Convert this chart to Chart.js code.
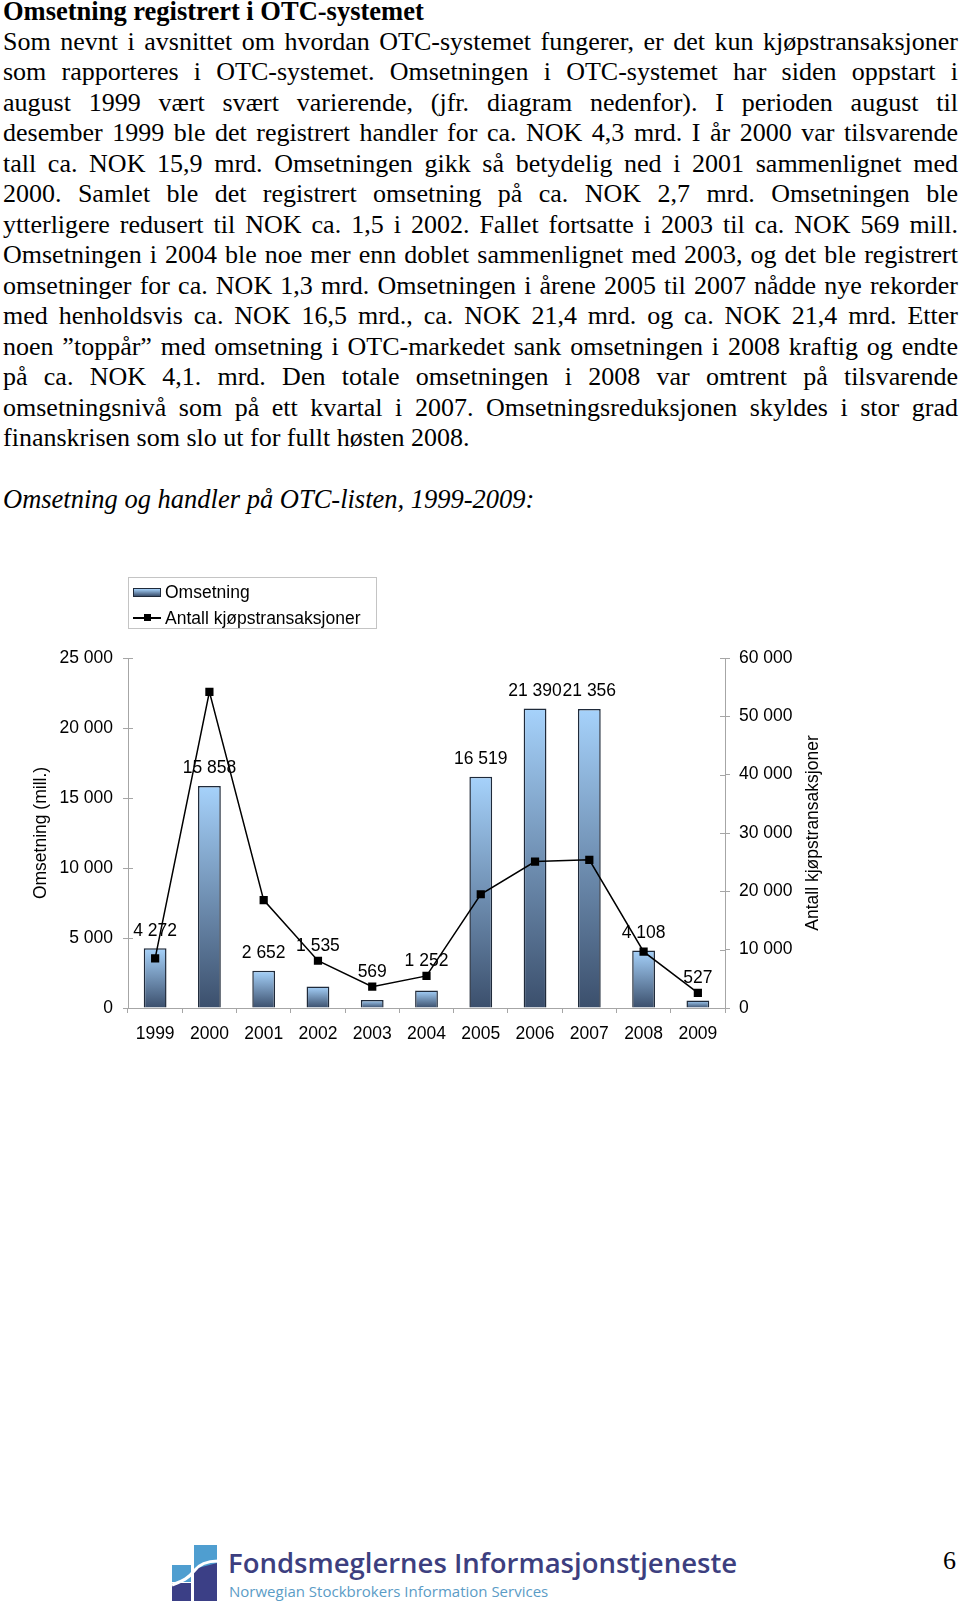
<!DOCTYPE html>
<html>
<head>
<meta charset="utf-8">
<script src="https://cdn.jsdelivr.net/npm/chart.js@4.4.0/dist/chart.umd.min.js"></script>
<style>
  html, body { margin: 0; padding: 0; background: #fff; }
  body { width: 960px; height: 1606px; position: relative; overflow: hidden; }
  #text { position: absolute; left: 3px; top: -4px; width: 955px;
    font-family: "Liberation Serif", "Times New Roman", serif; font-size: 26px; line-height: 30.5px; color: #000; }
  #text div { height: 30.5px; white-space: nowrap; }
  #text .j { text-align: justify; text-align-last: justify; }
  #text h1 { margin: 0; font-size: 26.5px; font-weight: bold; height: 30.5px; line-height: 30.5px; }
  #text .cap { font-style: italic; font-size: 26.5px; }
  #chart { position: absolute; left: 0; top: 540px; }
  #legend { position: absolute; left: 128px; top: 577px; width: 247px; height: 50px;
    border: 1px solid #c4c4c4; font-family: "Liberation Sans", Arial, sans-serif; font-size: 17.5px; color: #000; }
  #legend .item { position: absolute; left: 4px; height: 20px; line-height: 20px; white-space: nowrap; }
  #legend .sw { position: absolute; left: 0; width: 28px; }
  #legend .lbl { position: absolute; left: 32px; top: 0; }
  #logo { position: absolute; left: 172px; top: 1545px; }
  #brand1 { position: absolute; left: 228px; top: 1546px; font-family: "Open Sans", sans-serif;
    font-size: 27.5px; font-weight: 600; color: #3d3f7f; line-height: 34px; white-space: nowrap; }
  #brand2 { position: absolute; left: 229px; top: 1582px; font-family: "Open Sans", sans-serif;
    font-size: 15px; color: #5b9cc6; line-height: 18px; white-space: nowrap; }
  #page { position: absolute; left: 943px; top: 1546px; font-family: "Liberation Serif", serif; font-size: 26px; }
</style>
</head>
<body>
<div id="text">
  <h1>Omsetning registrert i OTC-systemet</h1>
  <div class="j">Som nevnt i avsnittet om hvordan OTC-systemet fungerer, er det kun kjøpstransaksjoner</div>
  <div class="j">som rapporteres i OTC-systemet. Omsetningen i OTC-systemet har siden oppstart i</div>
  <div class="j">august 1999 vært svært varierende, (jfr. diagram nedenfor). I perioden august til</div>
  <div class="j">desember 1999 ble det registrert handler for ca. NOK 4,3 mrd. I år 2000 var tilsvarende</div>
  <div class="j">tall ca. NOK 15,9 mrd. Omsetningen gikk så betydelig ned i 2001 sammenlignet med</div>
  <div class="j">2000. Samlet ble det registrert omsetning på ca. NOK 2,7 mrd. Omsetningen ble</div>
  <div class="j">ytterligere redusert til NOK ca. 1,5 i 2002. Fallet fortsatte i 2003 til ca. NOK 569 mill.</div>
  <div class="j">Omsetningen i 2004 ble noe mer enn doblet sammenlignet med 2003, og det ble registrert</div>
  <div class="j">omsetninger for ca. NOK 1,3 mrd. Omsetningen i årene 2005 til 2007 nådde nye rekorder</div>
  <div class="j">med henholdsvis ca. NOK 16,5 mrd., ca. NOK 21,4 mrd. og ca. NOK 21,4 mrd. Etter</div>
  <div class="j">noen ”toppår” med omsetning i OTC-markedet sank omsetningen i 2008 kraftig og endte</div>
  <div class="j">på ca. NOK 4,1. mrd. Den totale omsetningen i 2008 var omtrent på tilsvarende</div>
  <div class="j">omsetningsnivå som på ett kvartal i 2007. Omsetningsreduksjonen skyldes i stor grad</div>
  <div>finanskrisen som slo ut for fullt høsten 2008.</div>
  <div></div>
  <div class="cap">Omsetning og handler på OTC-listen, 1999-2009:</div>
</div>

<canvas id="chart" width="960" height="520"></canvas>
<div id="legend"></div>

<svg id="logo" width="46" height="56" viewBox="0 0 46 56">
  <rect x="0" y="20" width="19" height="17" fill="#4f9ed0"/>
  <rect x="0" y="38" width="19" height="18" fill="#3b3f86"/>
  <rect x="22" y="0" width="23" height="24" fill="#4f9ed0"/>
  <polygon points="22,24 45,18 45,56 22,56" fill="#3b3f86"/>
  <path d="M0,40 C10,36 16,34 22,26 C28,18 36,16 46,16" stroke="#fff" stroke-width="3" fill="none"/>
</svg>
<div id="brand1">Fondsmeglernes Informasjonstjeneste</div>
<div id="brand2">Norwegian Stockbrokers Information Services</div>
<div id="page">6</div>

<script>
var years = ['1999', '2000', '2001', '2002', '2003', '2004', '2005', '2006', '2007', '2008', '2009'];
var omsetning = [4272, 15858, 2652, 1535, 569, 1252, 16519, 21390, 21356, 4108, 527];
var kjopstransaksjoner = [8500, 54200, 18500, 8100, 3650, 5500, 19500, 25100, 25400, 9650, 2600];
var barLabel = 'Omsetning';
var lineLabel = 'Antall kjøpstransaksjoner';
var leftTitle = 'Omsetning (mill.)';
var rightTitle = 'Antall kjøpstransaksjoner';
var leftMax = 25000, leftStep = 5000;
var rightMax = 60000, rightStep = 10000;

var axisGray = '#a6a6a6';
var barTop = '#a6d2fb', barBottom = '#3b4f6c';
var fontSize = 17.5;
var fontCss = fontSize + 'px "Liberation Sans", Arial, sans-serif';

Chart.defaults.font.family = '"Liberation Sans", Arial, sans-serif';
Chart.defaults.font.size = fontSize;
Chart.defaults.color = '#000';

function fmt(v) {
  return String(v).replace(/\B(?=(\d{3})+(?!\d))/g, ' ');
}

// legend drawn as html, from the series names
var legend = document.getElementById('legend');
legend.innerHTML =
  '<div class="item" style="top:4px"><div class="sw" style="top:6px;height:7px;border:1px solid #1f2a3a;width:26px;' +
  'background:linear-gradient(' + barTop + ',' + barBottom + ')"></div><span class="lbl">' + barLabel + '</span></div>' +
  '<div class="item" style="top:30px"><div class="sw" style="top:9px;height:2px;background:#000"></div>' +
  '<div class="sw" style="top:6px;left:11px;width:7px;height:7px;background:#000"></div>' +
  '<span class="lbl">' + lineLabel + '</span></div>';

// value labels above bars, pushed up when the line marker sits on them
var valueLabels = {
  id: 'valueLabels',
  afterDatasetsDraw: function (chart) {
    var c = chart.ctx;
    var bars = chart.getDatasetMeta(1).data;
    var pts = chart.getDatasetMeta(0).data;
    c.save();
    c.font = fontCss;
    c.fillStyle = '#000';
    c.textAlign = 'center';
    c.textBaseline = 'middle';
    bars.forEach(function (bar, i) {
      var y = bar.y - 17.5;
      if (Math.abs(pts[i].y - y) < 15) y = pts[i].y - 15;
      c.fillText(fmt(omsetning[i]), bar.x, y);
    });
    c.restore();
  }
};

var axisExtras = {
  id: 'axisExtras',
  afterDraw: function (chart) {
    var a = chart.chartArea, c = chart.ctx;
    // small tick marks on the inside of both y axes
    c.save();
    c.strokeStyle = axisGray;
    c.lineWidth = 1;
    c.beginPath();
    ['y', 'y1'].forEach(function (id) {
      var s = chart.scales[id];
      var x = id === 'y' ? s.right : s.left;
      var dir = id === 'y' ? 1 : -1;
      s.ticks.forEach(function (t) {
        var py = Math.round(s.getPixelForValue(t.value)) + 0.5;
        c.moveTo(x, py);
        c.lineTo(x + 5 * dir, py);
      });
    });
    c.stroke();
    // right axis title reads bottom to top
    c.translate(chart.scales.y1.left + 88, (a.top + a.bottom) / 2);
    c.rotate(-Math.PI / 2);
    c.font = fontCss;
    c.fillStyle = '#000';
    c.textAlign = 'center';
    c.textBaseline = 'middle';
    c.fillText(rightTitle, 0, 0);
    c.restore();
  }
};

var chart = new Chart(document.getElementById('chart'), {
  data: {
    labels: years,
    datasets: [{
      type: 'line',
      label: lineLabel,
      data: kjopstransaksjoner,
      yAxisID: 'y1',
      borderColor: '#000',
      borderWidth: 1.5,
      pointStyle: 'rect',
      pointRadius: 5.8,
      pointBorderWidth: 0,
      pointBackgroundColor: '#000',
      tension: 0,
      order: 0
    }, {
      type: 'bar',
      label: barLabel,
      data: omsetning,
      yAxisID: 'y',
      borderColor: '#1f2a3a',
      borderWidth: 1.5,
      barPercentage: 0.42,
      categoryPercentage: 1,
      backgroundColor: function (ctx) {
        var ch = ctx.chart;
        if (!ch.chartArea || ctx.type !== 'data') return barTop;
        var top = ch.scales.y.getPixelForValue(ctx.raw);
        var base = ch.scales.y.getPixelForValue(0);
        var g = ch.ctx.createLinearGradient(0, top, 0, base);
        g.addColorStop(0, barTop);
        g.addColorStop(1, barBottom);
        return g;
      },
      order: 1
    }]
  },
  options: {
    responsive: false,
    animation: false,
    layout: { padding: { top: 118, left: 0, right: 0, bottom: 0 } },
    plugins: { legend: { display: false }, tooltip: { enabled: false } },
    scales: {
      x: {
        grid: { drawOnChartArea: false, offset: true, tickLength: 5, color: axisGray },
        border: { color: axisGray },
        ticks: { padding: 11, color: '#000' },
        afterFit: function (s) { s.height = 52; }
      },
      y: {
        position: 'left',
        min: 0,
        max: leftMax,
        ticks: { stepSize: leftStep, padding: 10, callback: fmt },
        grid: { drawOnChartArea: false, tickLength: 5, color: axisGray },
        border: { color: axisGray },
        title: { display: true, text: leftTitle, padding: { top: 31, bottom: 0 } },
        afterFit: function (s) { s.width = 128; }
      },
      y1: {
        position: 'right',
        min: 0,
        max: rightMax,
        ticks: { stepSize: rightStep, padding: 9, callback: fmt },
        grid: { drawOnChartArea: false, tickLength: 5, color: axisGray },
        border: { color: axisGray },
        afterFit: function (s) { s.width = 235; }
      }
    }
  },
  plugins: [valueLabels, axisExtras]
});
</script>
</body>
</html>
